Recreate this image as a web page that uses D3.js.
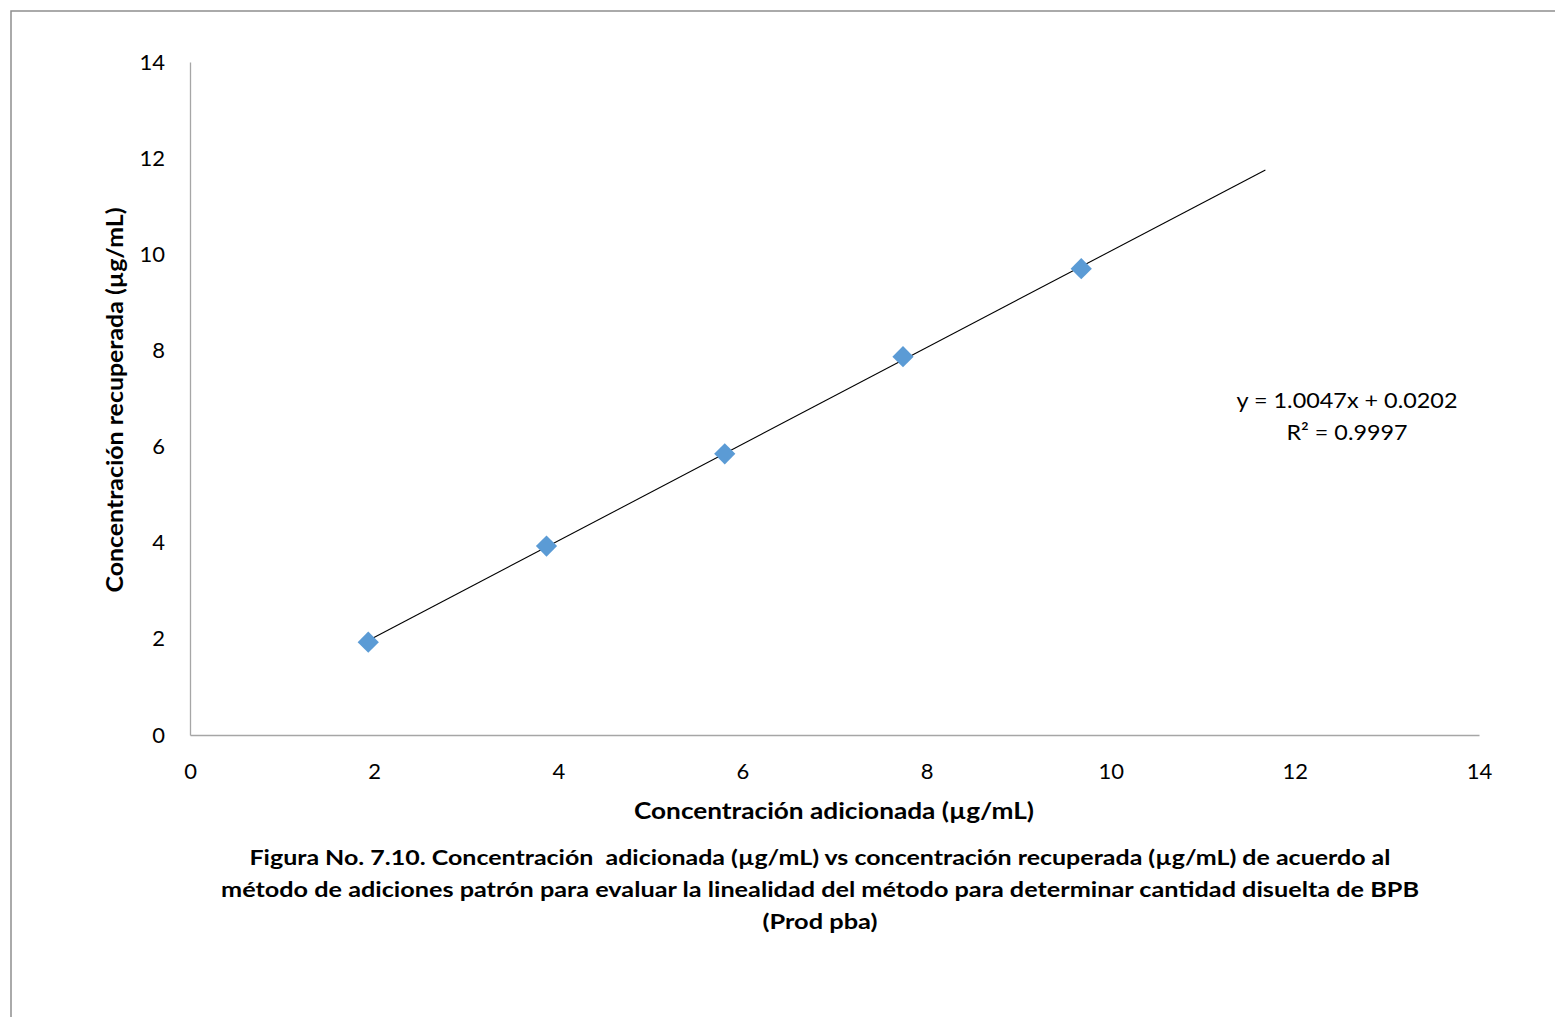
<!DOCTYPE html>
<html>
<head>
<meta charset="utf-8">
<script src="https://cdn.jsdelivr.net/npm/d3@7"></script>
<style>
  html, body { margin: 0; padding: 0; background: #fff; }
  svg { display: block; }
  text { font-family: Lato, "Open Sans", sans-serif; fill: #000; }
</style>
</head>
<body>
<script>
// Standard-addition linearity data (µg/mL)
const addedConc = [1.936, 3.872, 5.808, 7.744, 9.680];
const recoveredConc = [1.93, 3.93, 5.85, 7.87, 9.70];
const xTicks = [0, 2, 4, 6, 8, 10, 12, 14];
const yTicks = [0, 2, 4, 6, 8, 10, 12, 14];
const slope = 1.0047;
const intercept = 0.0202;
const rSquared = 0.9997;
const forecastForward = 2;

const xTitle = "Concentración adicionada (µg/mL)";
const yTitle = "Concentración recuperada (µg/mL)";
const captionLines = [
  "Figura No. 7.10. Concentración  adicionada (µg/mL) vs concentración recuperada (µg/mL) de acuerdo al",
  "método de adiciones patrón para evaluar la linealidad del método para determinar cantidad disuelta de BPB",
  "(Prod pba)"
];

const W = 1555, H = 1017;
const plot = { left: 190, right: 1479, top: 62, bottom: 735 };

const svg = d3.select("body").append("svg").attr("width", W).attr("height", H);

// outer chart frame
svg.append("rect")
  .attr("x", 11).attr("y", 11).attr("width", W).attr("height", H)
  .attr("fill", "none").attr("stroke", "#8e8e8e").attr("stroke-width", 1.5);

const x = d3.scaleLinear().domain([0, 14]).range([plot.left, plot.right]);
const y = d3.scaleLinear().domain([0, 14]).range([plot.bottom, plot.top]);

// axes without tick marks
const xAxis = d3.axisBottom(x).tickValues(xTicks).tickSize(0).tickPadding(26);
const yAxis = d3.axisLeft(y).tickValues(yTicks).tickSize(0).tickPadding(26);

const gx = svg.append("g").attr("transform", `translate(0,${plot.bottom})`).call(xAxis);
const gy = svg.append("g").attr("transform", `translate(${plot.left},0)`).call(yAxis);
[gx, gy].forEach(g => {
  g.select(".domain").attr("stroke", "#a6a6a6").attr("stroke-width", 1.3);
  g.selectAll("text").style("font-size", "22px").attr("fill", "#000")
    .style("font-family", "Lato, 'Open Sans', sans-serif");
});
gx.selectAll("text").attr("dy", "0.35em").attr("y", 36);
gy.selectAll("text").attr("x", -25);

// linear trendline from the fitted equation
const x0 = d3.min(addedConc), x1 = d3.max(addedConc) + forecastForward;
svg.append("line")
  .attr("x1", x(x0)).attr("y1", y(slope * x0 + intercept))
  .attr("x2", x(x1)).attr("y2", y(slope * x1 + intercept))
  .attr("stroke", "#000").attr("stroke-width", 1.1);

// diamond markers
const pts = addedConc.map((v, i) => [v, recoveredConc[i]]);
svg.append("g").selectAll("path").data(pts).join("path")
  .attr("transform", d => `translate(${x(d[0])},${y(d[1])}) rotate(45)`)
  .attr("d", d3.symbol().type(d3.symbolSquare).size(225))
  .attr("fill", "#5B9BD5");

// equation label
const eq = svg.append("g").attr("transform", "translate(1347,0)");
eq.append("text").attr("x", 0).attr("y", 408).attr("text-anchor", "middle")
  .style("font-size", "22px").attr("textLength", 221).attr("lengthAdjust", "spacingAndGlyphs")
  .text(`y = ${slope.toFixed(4)}x + ${intercept.toFixed(4)}`);
eq.append("text").attr("x", 0).attr("y", 440).attr("text-anchor", "middle")
  .style("font-size", "22px").attr("textLength", 121).attr("lengthAdjust", "spacingAndGlyphs")
  .text(`R² = ${rSquared.toFixed(4)}`);

// axis titles
svg.append("text").attr("x", 834).attr("y", 819).attr("text-anchor", "middle")
  .style("font-size", "22px").style("font-weight", "bold")
  .attr("textLength", 400).attr("lengthAdjust", "spacingAndGlyphs").text(xTitle);
svg.append("text").attr("transform", "translate(123,400) rotate(-90)").attr("text-anchor", "middle")
  .style("font-size", "22px").style("font-weight", "bold")
  .attr("textLength", 385).attr("lengthAdjust", "spacingAndGlyphs").text(yTitle);

// figure caption
const capLens = [1141, 1198, 115];
svg.append("g").selectAll("text").data(captionLines).join("text")
  .attr("x", 820).attr("y", (d, i) => 865 + i * 32).attr("text-anchor", "middle")
  .style("font-size", "20px").style("font-weight", "bold").style("white-space", "pre")
  .attr("textLength", (d, i) => capLens[i]).attr("lengthAdjust", "spacingAndGlyphs")
  .text(d => d);
</script>
</body>
</html>
